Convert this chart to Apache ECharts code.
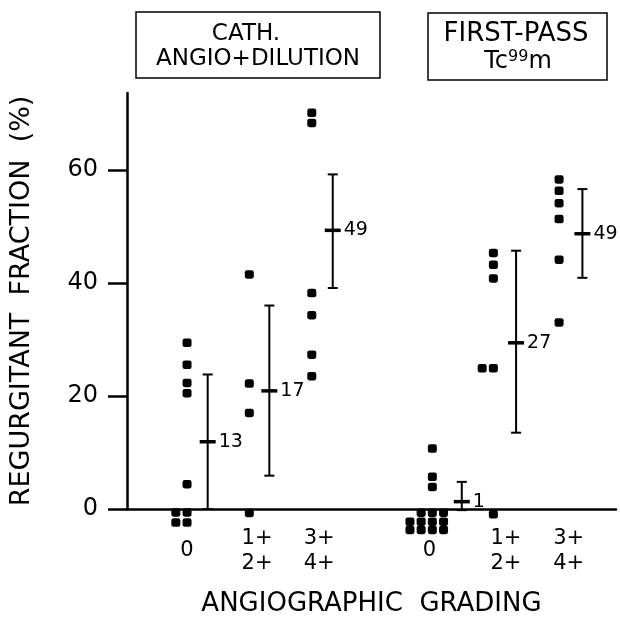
<!DOCTYPE html>
<html>
<head>
<meta charset="utf-8">
<script src="https://cdn.jsdelivr.net/npm/echarts@6/dist/echarts.min.js"></script>
<style>
  html, body { margin: 0; padding: 0; background: #fff; }
  #chart { width: 620px; height: 617px; }
</style>
</head>
<body>
<div id="chart"></div>
<script>
// y ticks
const yTicks = [0, 20, 40, 60];

// x slots of the category labels under the axis
const gradeLabels = ['0', '1+\n2+', '3+\n4+', '0', '1+\n2+', '3+\n4+'];
const gradeLabelPos = [0.965, 2.09, 3.09, 4.86, 6.09, 7.1];

// dot columns for each grade group (left panel then right panel)
const dotColumnPos = [0.965, 1.966, 2.97, 4.908, 5.889, 6.945];

// CATH. ANGIO+DILUTION
const cathValues = [
  [29.4, 25.5, 22.3, 20.5, 4.4, -0.6, -0.6, -2.4, -2.4],
  [41.5, 22.2, 17.0, -0.7],
  [70.1, 68.3, 38.2, 34.3, 27.3, 23.5]
];
const cathCols = [
  [0, 0, 0, 0, 0, -1, 0, -1, 0],
  [0, 0, 0, 0],
  [0, 0, 0, 0, 0, 0]
];

// FIRST-PASS Tc99m
const firstValues = [
  [10.7, 5.7, 3.9, -0.65, -0.65, -0.65, -2.25, -2.25, -2.25, -2.25, -3.7, -3.7, -3.7, -3.7],
  [45.3, 43.2, 40.8, 24.9, 24.9, -0.95],
  [58.3, 56.3, 54.1, 51.3, 44.1, 33.0]
];
const firstCols = [
  [0, 0, 0, -1, 0, 1, -2, -1, 0, 1, -2, -1, 0, 1],
  [0, 0, 0, -1, 0, 0],
  [0, 0, 0, 0, 0, 0]
];

// mean +/- SD bars
const barPos = [1.297, 2.288, 3.307, 5.381, 6.254, 7.32];
const barLow = [0, 5.9, 39.1, -0.2, 13.5, 40.9];
const barMean = [11.9, 20.9, 49.3, 1.3, 29.4, 48.7];
const barHigh = [23.8, 36.0, 59.2, 4.8, 45.7, 56.6];
const barLabels = ['13', '17', '49', '1', '27', '49'];

const FONT = 'DejaVu Sans';
const colStep = 0.18;

function buildDots(values, cols, offset) {
  const out = [];
  values.forEach((grp, g) => {
    grp.forEach((v, i) => out.push([dotColumnPos[offset + g] + cols[g][i] * colStep, v]));
  });
  return out;
}

const dotData = buildDots(cathValues, cathCols, 0).concat(buildDots(firstValues, firstCols, 3));
const barData = barPos.map((x, i) => [x, barLow[i], barMean[i], barHigh[i]]);

function renderBar(params, api) {
  const x = api.value(0);
  const lo = api.coord([x, api.value(1)]);
  const mid = api.coord([x, api.value(2)]);
  const hi = api.coord([x, api.value(3)]);
  const stroke = { stroke: '#000', lineWidth: 2 };
  return {
    type: 'group',
    children: [
      { type: 'line', shape: { x1: hi[0], y1: hi[1], x2: lo[0], y2: lo[1] }, style: stroke },
      { type: 'line', shape: { x1: hi[0] - 5, y1: hi[1], x2: hi[0] + 5, y2: hi[1] }, style: stroke },
      { type: 'line', shape: { x1: lo[0] - 5, y1: lo[1], x2: lo[0] + 5, y2: lo[1] }, style: stroke },
      { type: 'line', shape: { x1: mid[0] - 8, y1: mid[1], x2: mid[0] + 8, y2: mid[1] }, style: { stroke: '#000', lineWidth: 3.5 } },
      {
        type: 'text', x: mid[0] + 11, y: mid[1],
        style: { text: barLabels[params.dataIndex], fontSize: 19, fontFamily: FONT, fill: '#000', verticalAlign: 'middle', align: 'left' }
      }
    ]
  };
}

const chart = echarts.init(document.getElementById('chart'), null, { renderer: 'canvas' });

chart.setOption({
  animation: false,
  backgroundColor: '#fff',
  grid: { left: 127, right: 4, top: 93, bottom: 108, outerBoundsMode: 'none', containLabel: false },
  graphic: [
    { type: 'rect', shape: { x: 136, y: 12, width: 244, height: 66 }, style: { fill: 'none', stroke: '#000', lineWidth: 1.5 } },
    { type: 'text', x: 246, y: 34, style: { text: 'CATH.', fontSize: 23, fontFamily: FONT, fill: '#000', align: 'center', verticalAlign: 'middle' } },
    { type: 'text', x: 258, y: 59, style: { text: 'ANGIO+DILUTION', fontSize: 23, fontFamily: FONT, fill: '#000', align: 'center', verticalAlign: 'middle' } },
    { type: 'rect', shape: { x: 428, y: 13, width: 179, height: 67 }, style: { fill: 'none', stroke: '#000', lineWidth: 1.5 } },
    { type: 'text', x: 516, y: 34, style: { text: 'FIRST-PASS', fontSize: 26, fontFamily: FONT, fill: '#000', align: 'center', verticalAlign: 'middle' } },
    {
      type: 'text', x: 518, y: 62,
      style: {
        text: 'Tc{sup|99}m', fontSize: 24, fontFamily: FONT, fill: '#000', align: 'center', verticalAlign: 'middle',
        rich: { sup: { fontSize: 16, fontFamily: FONT, fill: '#000', padding: [0, 0, 10, 0] } }
      }
    }
  ],
  xAxis: {
    type: 'value',
    min: 0,
    max: 7.86,
    name: 'ANGIOGRAPHIC  GRADING',
    nameLocation: 'middle',
    nameGap: 82,
    nameTextStyle: { fontSize: 26, fontFamily: FONT, color: '#000' },
    axisLine: { show: true, onZero: true, lineStyle: { color: '#000', width: 2.5 } },
    axisTick: { show: false },
    splitLine: { show: false },
    axisLabel: {
      customValues: gradeLabelPos,
      formatter: (v) => {
        const i = gradeLabelPos.findIndex((p) => Math.abs(p - v) < 1e-6);
        return i < 0 ? '' : gradeLabels[i];
      },
      fontSize: 21,
      lineHeight: 25,
      fontFamily: FONT,
      color: '#000',
      verticalAlign: 'middle',
      margin: 42
    }
  },
  yAxis: {
    type: 'value',
    min: 0,
    max: 73.6,
    name: 'REGURGITANT  FRACTION  (%)',
    nameLocation: 'middle',
    nameGap: 92,
    nameTextStyle: { fontSize: 27, fontFamily: FONT, color: '#000' },
    axisLine: { show: true, lineStyle: { color: '#000', width: 2.5 } },
    axisTick: { show: true, length: 19, customValues: yTicks, lineStyle: { color: '#000', width: 2.5 } },
    axisLabel: { customValues: yTicks, fontSize: 24, fontFamily: FONT, color: '#000', margin: 29 },
    splitLine: { show: false }
  },
  series: [
    {
      type: 'scatter',
      data: dotData,
      symbol: 'roundRect',
      symbolSize: [9, 8.5],
      itemStyle: { color: '#000', opacity: 1 },
      clip: false,
      silent: true
    },
    {
      type: 'custom',
      data: barData,
      renderItem: renderBar,
      clip: false,
      silent: true
    }
  ]
});
</script>
</body>
</html>
